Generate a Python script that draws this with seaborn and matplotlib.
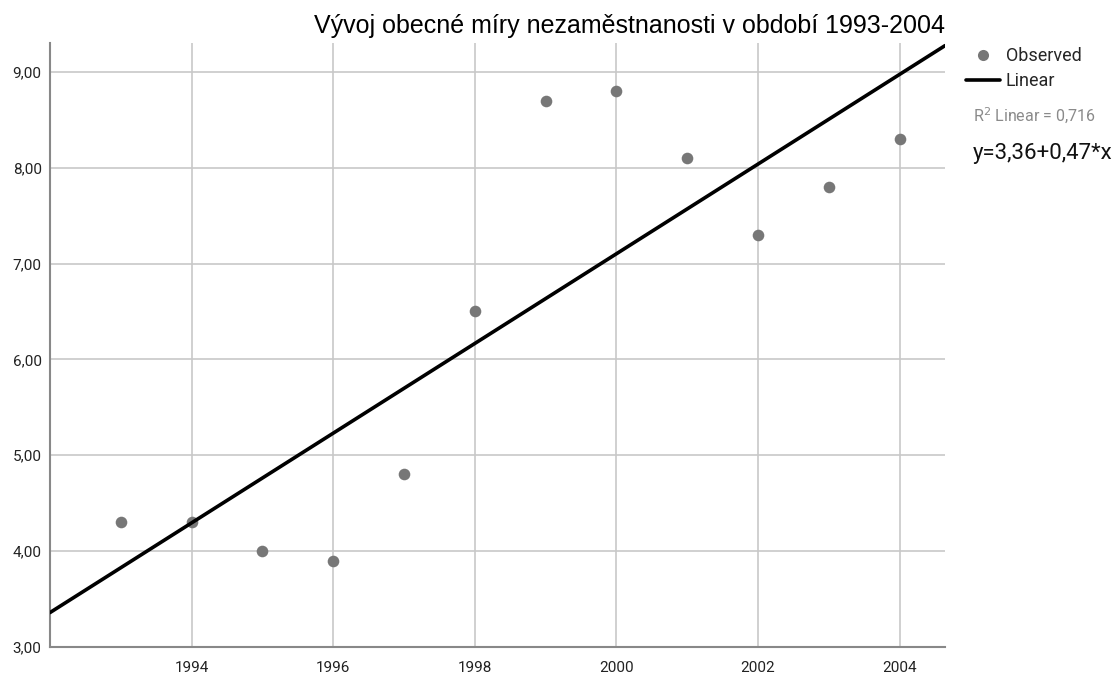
import matplotlib
matplotlib.use("Agg")
import matplotlib.pyplot as plt
import seaborn as sns
import pandas as pd
from matplotlib.ticker import FuncFormatter, FixedLocator
from matplotlib.lines import Line2D

years = [1993, 1994, 1995, 1996, 1997, 1998, 1999, 2000, 2001, 2002, 2003, 2004]
unemployment = [4.3, 4.3, 4.0, 3.9, 4.8, 6.5, 8.7, 8.8, 8.1, 7.3, 7.8, 8.3]
x_ticks = [1994, 1996, 1998, 2000, 2002, 2004]
y_ticks = [3, 4, 5, 6, 7, 8, 9]
title = "Vývoj obecné míry nezaměstnanosti v období 1993-2004"
legend_labels = ["Observed", "Linear"]
r2_text = "R$^2$ Linear = 0,716"
eq_text = "y=3,36+0,47*x"

df = pd.DataFrame({"year": years, "rate": unemployment})

sns.set_theme(style="white")
plt.rcParams["font.family"] = ["Roboto", "DejaVu Sans"]

fig = plt.figure(figsize=(11.2, 6.75), dpi=100)
ax = fig.add_axes([50 / 1120, 28 / 675, 895 / 1120, 604 / 675])
ax.set_xlim(1992, 2004.64)
ax.set_ylim(3, 9.3)

sns.regplot(data=df, x="year", y="rate", ax=ax, ci=None, truncate=False,
            scatter_kws={"s": 70, "color": "#777777", "alpha": 1, "linewidths": 0,
                         "zorder": 3},
            line_kws={"color": "black", "lw": 2.6, "zorder": 4})

ax.set_xlim(1992, 2004.64)
ax.set_ylim(3, 9.3)
ax.xaxis.set_major_locator(FixedLocator(x_ticks))
ax.yaxis.set_major_locator(FixedLocator(y_ticks))
ax.yaxis.set_major_formatter(FuncFormatter(lambda v, p: f"{v:.2f}".replace(".", ",")))
ax.grid(True, color="#c8c8c8", lw=1.2)
ax.set_axisbelow(True)
for s in ["top", "right"]:
    ax.spines[s].set_visible(False)
for s in ["left", "bottom"]:
    ax.spines[s].set_color("#888888")
    ax.spines[s].set_linewidth(1.5)
ax.tick_params(axis="both", length=0, labelsize=11, colors="#222222")
ax.tick_params(axis="y", pad=6)
ax.tick_params(axis="x", pad=10)
ax.set_xlabel("")
ax.set_ylabel("")

ax.set_title(title, loc="right", fontsize=18, family=["Liberation Sans"], pad=7,
             color="#000000")

handles = [
    Line2D([], [], ls="none", marker="o", ms=8, mfc="#777777", mec="none"),
    Line2D([], [], color="black", lw=2.6),
]
ax.legend(handles, legend_labels, loc="upper left", bbox_to_anchor=(1.0235, 0.993),
          frameon=False, fontsize=13, handlelength=1.9, handletextpad=0.3,
          labelspacing=0.4, borderaxespad=0, borderpad=0)
fig.text(973 / 1120, 1 - 116 / 675, r2_text, fontsize=11.5, color="#8a8a8a",
         va="center", ha="left")
fig.text(973 / 1120, 1 - 154 / 675, eq_text, fontsize=16, color="#111111",
         va="center", ha="left")

fig.savefig("out.png", dpi=100)
